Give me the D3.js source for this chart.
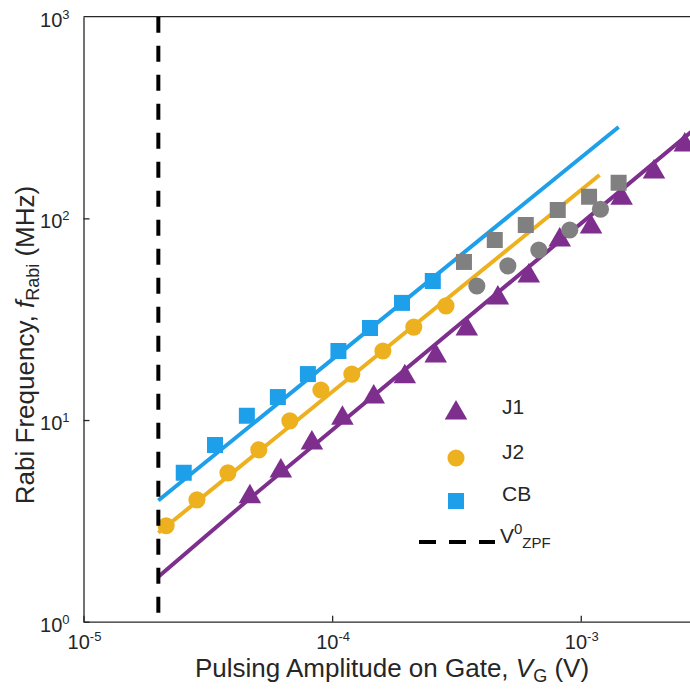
<!DOCTYPE html>
<html>
<head>
<meta charset="utf-8">
<script src="https://cdn.jsdelivr.net/npm/d3@7"></script>
<style>
	body { margin: 0; background: #fff; }
	text { font-family: "Liberation Sans", Arial, sans-serif; fill: #262626; }
</style>
</head>
<body>
<svg id="chart" width="690" height="691"></svg>
<script>
// J1 (purple triangles)
const j1V = [4.67e-5, 6.22e-5, 8.29e-5, 1.10e-4, 1.47e-4, 1.96e-4, 2.61e-4, 3.48e-4, 4.64e-4, 6.18e-4, 8.23e-4, 1.10e-3, 1.46e-3, 1.97e-3, 2.62e-3]
const j1F = [4.16, 5.59, 7.70, 10.2, 13.0, 16.4, 20.8, 28.3, 40.3, 51.8, 78.1, 90.7, 126, 170, 231]

// J2 (orange circles), grey ones beyond the fit range
const j2V = [2.15e-5, 2.86e-5, 3.81e-5, 5.07e-5, 6.76e-5, 9.01e-5, 1.20e-4, 1.60e-4, 2.13e-4, 2.87e-4]
const j2F = [2.99, 4.02, 5.47, 7.11, 9.9, 14.1, 16.9, 22.0, 28.9, 36.8]
const j2GreyV = [3.82e-4, 5.09e-4, 6.78e-4, 9.03e-4, 1.20e-3]
const j2GreyF = [46.2, 58.1, 69.7, 87.6, 111]

// CB (blue squares), grey ones beyond the fit range
const cbV = [2.53e-5, 3.38e-5, 4.54e-5, 6.05e-5, 7.99e-5, 1.06e-4, 1.42e-4, 1.91e-4, 2.54e-4]
const cbF = [5.47, 7.52, 10.5, 13.0, 16.9, 22.0, 28.6, 38.1, 48.9]
const cbGreyV = [3.39e-4, 4.51e-4, 6.01e-4, 8.08e-4, 1.08e-3, 1.42e-3]
const cbGreyF = [60.8, 78.1, 92.7, 110, 128, 150]

// fit lines
const fitJ1V = [2e-5, 4.54e-5, 2.9e-3]
const fitJ1F = [1.67, 3.97, 280]
const fitJ2V = [2e-5, 1.19e-3]
const fitJ2F = [2.76, 164]
const fitCBV = [2e-5, 1.42e-3]
const fitCBF = [3.99, 284]

// zero point fluctuation voltage
const vZpf = 2e-5

const xTicks = [1e-5, 1e-4, 1e-3]
const yTicks = [1, 10, 100, 1000]

const purple = "#7E2F8E"
const orange = "#EDB120"
const blue = "#1E9FEA"
const grey = "#808080"
const ink = "#262626"

const svg = d3.select("#chart")
const plotLeft = 83.5, plotRight = 690, plotTop = 16.7, plotBottom = 621.7

const x = d3.scaleLog().domain([1e-5, 2.75e-3]).range([plotLeft, plotRight])
const y = d3.scaleLog().domain([1, 1000]).range([plotBottom, plotTop])

svg.append("defs").append("clipPath").attr("id", "plot")
	.append("rect").attr("x", plotLeft).attr("y", plotTop)
	.attr("width", plotRight - plotLeft).attr("height", plotBottom - plotTop)

// axes, ticks pointing inwards
svg.append("g")
	.attr("transform", `translate(0, ${plotBottom})`)
	.call(d3.axisBottom(x).tickValues(xTicks).tickSizeInner(-6).tickSizeOuter(0).tickFormat(""))
svg.append("g")
	.attr("transform", `translate(${plotLeft}, 0)`)
	.call(d3.axisLeft(y).tickValues(yTicks.slice(0, 3)).tickSizeInner(-6).tickSizeOuter(0).tickFormat(""))
svg.selectAll(".domain, .tick line").attr("stroke", ink).attr("stroke-width", 1.3)
svg.append("line")
	.attr("x1", plotLeft).attr("x2", plotRight).attr("y1", y(1000)).attr("y2", y(1000))
	.attr("stroke", ink).attr("stroke-width", 1.3)

// tick labels as 10^n
function powerLabel(sel) {
	sel.text("10")
	sel.append("tspan").attr("dy", -8).attr("font-size", 13)
		.text(d => Math.round(Math.log10(d)))
}
svg.append("g").selectAll("text").data(xTicks).join("text")
	.attr("x", d => x(d) + 1).attr("y", plotBottom + 27)
	.attr("text-anchor", "middle").attr("font-size", 20)
	.call(powerLabel)
svg.append("g").selectAll("text").data(yTicks).join("text")
	.attr("x", plotLeft - 14).attr("y", d => y(d) + 10)
	.attr("text-anchor", "end").attr("font-size", 20)
	.call(powerLabel)

// axis titles
const xTitle = svg.append("text")
	.attr("x", 392).attr("y", 677).attr("text-anchor", "middle").attr("font-size", 26)
xTitle.append("tspan").text("Pulsing Amplitude on Gate, ")
xTitle.append("tspan").attr("font-style", "italic").text("V")
xTitle.append("tspan").attr("font-size", 18).attr("dy", 5).text("G")
xTitle.append("tspan").attr("dy", -5).text(" (V)")

const yTitle = svg.append("text")
	.attr("transform", "translate(34, 345) rotate(-90)")
	.attr("text-anchor", "middle").attr("font-size", 26)
yTitle.append("tspan").text("Rabi Frequency, ")
yTitle.append("tspan").attr("font-style", "italic").text("f")
yTitle.append("tspan").attr("font-size", 18).attr("dy", 5).text("Rabi")
yTitle.append("tspan").attr("dy", -5).text(" (MHz)")

const plot = svg.append("g").attr("clip-path", "url(#plot)")

// fit lines
const line = d3.line().x(d => x(d[0])).y(d => y(d[1]))
const fits = [[fitJ1V, fitJ1F, purple], [fitJ2V, fitJ2F, orange], [fitCBV, fitCBF, blue]]
fits.forEach(([vs, fs, c]) => {
	plot.append("path")
		.attr("d", line(vs.map((v, i) => [v, fs[i]])))
		.attr("fill", "none").attr("stroke", c).attr("stroke-width", 4)
})

// markers
const tri = d3.symbol(d3.symbolTriangle, 220)
const circ = d3.symbol(d3.symbolCircle, 230)
const sq = d3.symbol(d3.symbolSquare, 256)
function markers(vs, fs, sym, c) {
	plot.append("g").selectAll("path").data(vs.map((v, i) => [v, fs[i]])).join("path")
		.attr("transform", d => `translate(${x(d[0])}, ${y(d[1])})`)
		.attr("d", sym).attr("fill", c)
}
markers(j1V, j1F, tri, purple)
markers(j2V, j2F, circ, orange)
markers(cbV, cbF, sq, blue)
markers(j2GreyV, j2GreyF, circ, grey)
markers(cbGreyV, cbGreyF, sq, grey)

// V_ZPF line
plot.append("line")
	.attr("x1", x(vZpf)).attr("x2", x(vZpf)).attr("y1", plotTop).attr("y2", plotBottom)
	.attr("stroke", "#000").attr("stroke-width", 4).attr("stroke-dasharray", "16 13")

// legend
const legend = svg.append("g")
const legendItems = [
	{ name: "J1", sym: tri, color: purple, cy: 413, ty: 414 },
	{ name: "J2", sym: circ, color: orange, cy: 458, ty: 459 },
	{ name: "CB", sym: sq, color: blue, cy: 501, ty: 501 }
]
legendItems.forEach(d => {
	legend.append("path").attr("transform", `translate(456, ${d.cy})`).attr("d", d.sym).attr("fill", d.color)
	legend.append("text").attr("x", 502).attr("y", d.ty).attr("font-size", 21).text(d.name)
})
legend.append("line")
	.attr("x1", 419).attr("x2", 495).attr("y1", 542).attr("y2", 542)
	.attr("stroke", "#000").attr("stroke-width", 4).attr("stroke-dasharray", "17 13")
const zpfText = legend.append("text").attr("x", 500).attr("y", 543).attr("font-size", 21)
zpfText.append("tspan").text("V")
zpfText.append("tspan").attr("font-size", 15).attr("dy", -9).text("0")
zpfText.append("tspan").attr("font-size", 15).attr("dy", 14).text("ZPF")
</script>
</body>
</html>
